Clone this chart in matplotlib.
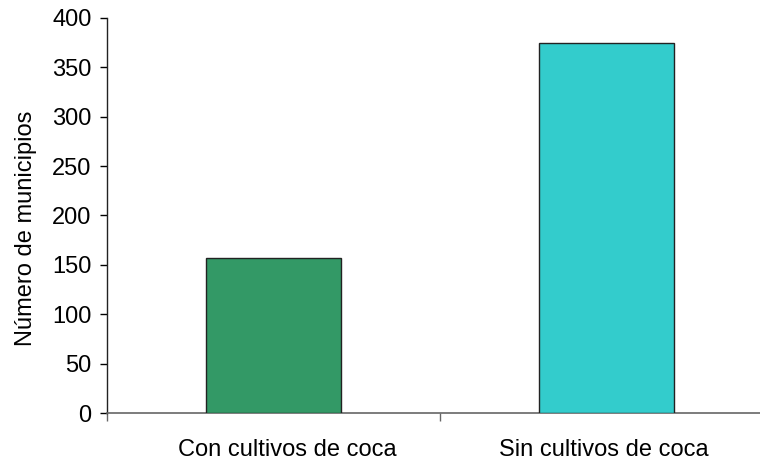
import matplotlib
matplotlib.use("Agg")
import matplotlib.pyplot as plt
import matplotlib.transforms as mtransforms
import numpy as np

categories = ["Con cultivos de coca", "Sin cultivos de coca"]
values = [157, 375]
colors = ["#339966", "#33CCCC"]
y_ticks = [0, 50, 100, 150, 200, 250, 300, 350, 400]

plt.rcParams['font.family'] = ['Liberation Sans', 'DejaVu Sans']
FS = 17

fig = plt.figure(figsize=(7.6, 4.61), dpi=100)
ax = fig.add_axes([107/760, 48/461, 666/760, 395/461])

x = np.arange(len(categories))
ax.bar(x, values, width=0.405, color=colors, edgecolor="#222222", linewidth=1.0, zorder=3)

ax.set_xlim(-0.5, len(categories) - 0.5)
ax.set_ylim(0, 400)
ax.set_yticks(y_ticks)
ax.set_yticklabels([str(v) for v in y_ticks], fontsize=FS)

# category labels centered, ticks between categories
ax.set_xticks(x)
ax.set_xticklabels(categories, fontsize=FS)
ax.tick_params(axis='x', which='major', length=0, pad=19)
ax.set_xticks(np.arange(-0.5, len(categories) + 0.5, 1.0), minor=True)
ax.tick_params(axis='x', which='minor', length=6, width=1, color="#666666", direction='out')
ax.tick_params(axis='y', length=5, width=1, direction='out', pad=6)

# small horizontal shifts of category labels as in the reference
shifts_px = [14, -3]
for lab, dx in zip(ax.get_xticklabels(), shifts_px):
    lab.set_transform(lab.get_transform() + mtransforms.ScaledTranslation(dx / 100, 0, fig.dpi_scale_trans))

ax.spines['top'].set_visible(False)
ax.spines['right'].set_visible(False)
ax.spines['left'].set_color("#222222")
ax.spines['bottom'].set_color("#666666")
ax.spines['left'].set_linewidth(1)
ax.spines['bottom'].set_linewidth(1.2)

ax.set_ylabel("Número de municipios", fontsize=FS)
ax.yaxis.set_label_coords(-0.105, 0.468)

fig.savefig("out.png", dpi=100)
